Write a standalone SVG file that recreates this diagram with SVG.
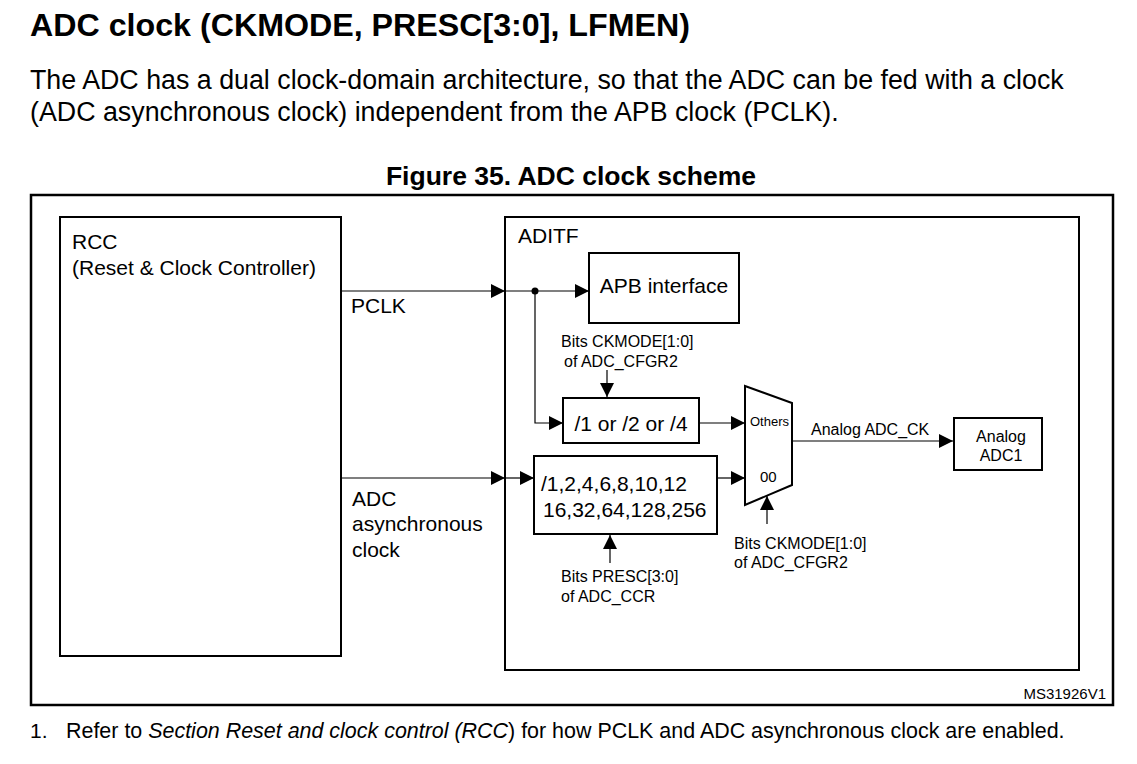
<svg xmlns="http://www.w3.org/2000/svg" width="1137" height="764" viewBox="0 0 1137 764">
<defs>
<style>
text{font-family:"Liberation Sans",Arial,sans-serif;fill:#000}
.box{fill:#fff;stroke:#000;stroke-width:2}
.wire{fill:none;stroke:#000;stroke-width:1.2}
.t21{font-size:21px}
.t16{font-size:16px}
.mid{text-anchor:middle}
</style>
<marker id="ah" markerUnits="userSpaceOnUse" markerWidth="14" markerHeight="14" refX="14" refY="7" orient="auto" viewBox="0 0 14 14">
<path d="M0,0 L14,7 L0,14 Z" fill="#000"/>
</marker>
</defs>
<rect width="1137" height="764" fill="#fff"/>
<text x="30" y="36" font-size="32.2" font-weight="bold">ADC clock (CKMODE, PRESC[3:0], LFMEN)</text>
<text x="30" y="89" font-size="26.8">The ADC has a dual clock-domain architecture, so that the ADC can be fed with a clock</text>
<text x="30" y="121" font-size="26.8">(ADC asynchronous clock) independent from the APB clock (PCLK).</text>
<text x="571" y="185" font-size="26.5" font-weight="bold" text-anchor="middle">Figure 35. ADC clock scheme</text>
<rect x="31" y="195" width="1082" height="510" fill="none" stroke="#000" stroke-width="2.5"/>
<g id="rcc">
<rect class="box" x="60" y="217" width="281" height="439"/>
<text class="t21" x="72" y="249">RCC</text>
<text class="t21" x="72" y="275">(Reset &amp; Clock Controller)</text>
</g>
<g id="aditf">
<rect class="box" x="505" y="217" width="574" height="453"/>
<text class="t21" x="518" y="243">ADITF</text>
</g>
<g id="apb">
<rect class="box" x="589" y="253" width="150" height="70"/>
<text class="t21 mid" x="664" y="293">APB interface</text>
</g>
<g id="div124">
<rect class="box" x="563" y="398" width="136" height="45"/>
<text class="t21 mid" x="631" y="431">/1 or /2 or /4</text>
</g>
<g id="presc">
<rect class="box" x="534" y="456" width="183" height="78"/>
<text class="t21" x="541" y="491">/1,2,4,6,8,10,12</text>
<text class="t21" x="543" y="517">16,32,64,128,256</text>
</g>
<g id="mux">
<path d="M745,386 L792,403 L792,485 L745,505 Z" fill="#fff" stroke="#000" stroke-width="2"/>
<text x="750" y="426" font-size="13">Others</text>
<text x="760" y="482" font-size="15">00</text>
</g>
<g id="adc1">
<rect class="box" x="954" y="418" width="88" height="52"/>
<text class="t16 mid" x="1001" y="442">Analog</text>
<text class="t16 mid" x="1001" y="461">ADC1</text>
</g>
<g id="connectors">
<line class="wire" x1="341" y1="291" x2="505" y2="291" marker-end="url(#ah)"/>
<line class="wire" x1="505" y1="291" x2="589" y2="291" marker-end="url(#ah)"/>
<circle cx="535" cy="291" r="3.5" fill="#000"/>
<polyline class="wire" points="535,291 535,423 563,423" marker-end="url(#ah)"/>
<line class="wire" x1="607" y1="370" x2="607" y2="397" marker-end="url(#ah)"/>
<line class="wire" x1="699" y1="423" x2="745" y2="423" marker-end="url(#ah)"/>
<line class="wire" x1="341" y1="478" x2="505" y2="478" marker-end="url(#ah)"/>
<line class="wire" x1="505" y1="478" x2="534" y2="478" marker-end="url(#ah)"/>
<line class="wire" x1="717" y1="478" x2="745" y2="478" marker-end="url(#ah)"/>
<line class="wire" x1="792" y1="441" x2="953" y2="441" marker-end="url(#ah)"/>
<line class="wire" x1="610" y1="563" x2="610" y2="535" marker-end="url(#ah)"/>
<line class="wire" x1="767" y1="524" x2="767" y2="496" marker-end="url(#ah)"/>
</g>
<g id="labels">
<text class="t21" x="351" y="313">PCLK</text>
<text class="t21" x="352" y="506">ADC</text>
<text class="t21" x="352" y="531">asynchronous</text>
<text class="t21" x="352" y="557">clock</text>
<text class="t16" x="561" y="347">Bits CKMODE[1:0]</text>
<text class="t16" x="564" y="367">of ADC_CFGR2</text>
<text class="t16" x="811" y="435">Analog ADC_CK</text>
<text class="t16" x="561" y="582">Bits PRESC[3:0]</text>
<text class="t16" x="561" y="602">of ADC_CCR</text>
<text class="t16" x="734" y="549">Bits CKMODE[1:0]</text>
<text class="t16" x="734" y="568">of ADC_CFGR2</text>
<text x="1106" y="699" font-size="15" text-anchor="end">MS31926V1</text>
</g>
<text x="30" y="738" font-size="21">1.</text>
<text x="66" y="738" font-size="21.45">Refer to <tspan font-style="italic">Section Reset and clock control (RCC</tspan>) for how PCLK and ADC asynchronous clock are enabled.</text>
</svg>
